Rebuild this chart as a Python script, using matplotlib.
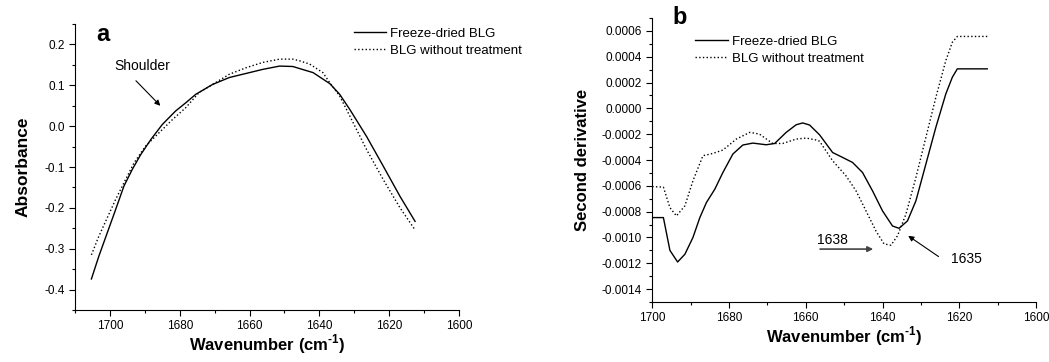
import numpy as np
import matplotlib
matplotlib.use("Agg")
import matplotlib.pyplot as plt
from matplotlib.ticker import MultipleLocator, FormatStrFormatter

plt.rcParams['font.family'] = ['Liberation Sans', 'DejaVu Sans']
plt.rcParams['axes.unicode_minus'] = False
plt.rcParams['mathtext.fontset'] = 'custom'
plt.rcParams['mathtext.rm'] = 'Liberation Sans:bold'
plt.rcParams['mathtext.bf'] = 'Liberation Sans:bold'

# panel a: absorbance spectra
a_fd_wn = [1705.3, 1703.2, 1700.8, 1698.4, 1696.0, 1693.6, 1691.2, 1688.3, 1685.0, 1681.2,
           1678.3, 1675.4, 1670.6, 1665.8, 1661.0, 1656.2, 1651.4, 1647.6, 1645.7, 1641.8,
           1637.0, 1634.2, 1631.3, 1626.5, 1621.7, 1616.9, 1612.6]
a_fd_val = [-0.374, -0.319, -0.262, -0.205, -0.147, -0.106, -0.070, -0.033, 0.004, 0.037,
            0.057, 0.078, 0.102, 0.119, 0.129, 0.139, 0.147, 0.146, 0.141, 0.131,
            0.104, 0.078, 0.041, -0.025, -0.098, -0.172, -0.233]
a_raw_wn = [1705.3, 1703.2, 1700.8, 1698.4, 1696.0, 1693.1, 1689.8, 1685.9, 1682.1, 1678.3,
            1674.5, 1670.6, 1665.8, 1661.0, 1656.2, 1651.4, 1647.6, 1645.7, 1642.8, 1639.0,
            1637.0, 1634.2, 1631.3, 1626.5, 1621.7, 1616.9, 1612.6]
a_raw_val = [-0.315, -0.270, -0.225, -0.180, -0.139, -0.090, -0.049, -0.016, 0.016, 0.045,
             0.082, 0.102, 0.127, 0.143, 0.156, 0.164, 0.164, 0.160, 0.152, 0.131,
             0.106, 0.074, 0.025, -0.057, -0.131, -0.200, -0.254]

# panel b: second derivative
b_fd_wn = [1700.0, 1697.1, 1695.4, 1693.4, 1691.5, 1689.4, 1687.6, 1685.9, 1683.7, 1681.6,
           1679.0, 1676.4, 1673.8, 1670.3, 1668.1, 1665.1, 1662.5, 1660.8, 1659.0, 1656.4,
           1653.0, 1650.4, 1647.8, 1645.2, 1642.6, 1640.0, 1637.4, 1635.7, 1633.5, 1631.3,
           1628.7, 1626.1, 1623.5, 1621.8, 1620.5, 1612.7]
b_fd_val = [-0.000846, -0.000846, -0.00110, -0.00119, -0.00113, -0.00100, -0.000846, -0.00073,
            -0.000626, -0.000497, -0.000354, -0.000284, -0.000269, -0.000282, -0.000272,
            -0.000186, -0.000127, -0.000113, -0.000129, -0.000205, -0.000342, -0.000380,
            -0.000419, -0.000497, -0.000639, -0.000794, -0.000911, -0.000929, -0.000872,
            -0.000717, -0.000432, -0.000147, 0.000112, 0.000241, 0.000306, 0.000306]
b_raw_wn = [1700.0, 1697.1, 1695.4, 1693.7, 1691.5, 1689.4, 1686.8, 1684.2, 1681.6, 1678.1,
            1674.6, 1672.1, 1668.6, 1666.0, 1662.5, 1659.9, 1657.3, 1656.4, 1653.0, 1649.5,
            1646.9, 1644.3, 1641.7, 1639.6, 1637.8, 1636.1, 1633.9, 1631.3, 1628.7, 1626.1,
            1623.5, 1621.8, 1620.5, 1612.7]
b_raw_val = [-0.000606, -0.00061, -0.000769, -0.000833, -0.000755, -0.000561, -0.000367,
             -0.000349, -0.000323, -0.000238, -0.000186, -0.000199, -0.000272, -0.000272,
             -0.000238, -0.00023, -0.000245, -0.000255, -0.000406, -0.000523, -0.000639,
             -0.000794, -0.00095, -0.00105, -0.00106, -0.000988, -0.00082, -0.000536,
             -0.000225, 0.000085, 0.00037, 0.000512, 0.000557, 0.000557]

labels = ["Freeze-dried BLG", "BLG without treatment"]
xlab = r"Wavenumber (cm$^{\text{-1}}$)"

fig = plt.figure(figsize=(10.49, 3.62), dpi=100)
ax1 = fig.add_axes([0.0715, 0.1436, 0.3661, 0.7901])
ax2 = fig.add_axes([0.6218, 0.1657, 0.3658, 0.7846])

for ax in (ax1, ax2):
    ax.spines['top'].set_visible(False)
    ax.spines['right'].set_visible(False)
    ax.tick_params(which='both', direction='out', labelsize=8.5, width=0.8)
    ax.tick_params(which='major', length=4)
    ax.tick_params(which='minor', length=2.5)

# panel a
ax1.plot(a_fd_wn, a_fd_val, 'k-', lw=1.0, label=labels[0])
ax1.plot(a_raw_wn, a_raw_val, 'k:', lw=1.0, label=labels[1])
ax1.set_xlim(1710, 1600)
ax1.set_ylim(-0.45, 0.25)
ax1.xaxis.set_major_locator(MultipleLocator(20))
ax1.xaxis.set_minor_locator(MultipleLocator(10))
ax1.yaxis.set_major_locator(MultipleLocator(0.1))
ax1.yaxis.set_minor_locator(MultipleLocator(0.05))
ax1.yaxis.set_major_formatter(FormatStrFormatter('%.1f'))
ax1.set_xlabel(xlab, fontsize=12, fontweight='bold', labelpad=0)
ax1.set_ylabel("Absorbance", fontsize=12.5, fontweight='bold', labelpad=10)
ax1.text(1704, 0.2245, "a", fontsize=17, fontweight='bold', va='center')
ax1.annotate("", xy=(1685, 0.045), xytext=(1693.1, 0.116),
             arrowprops=dict(arrowstyle='-|>', color='k', lw=0.8, mutation_scale=8))
ax1.text(1698.8, 0.147, "Shoulder", fontsize=10, va='center')
ax1.legend(loc='upper left', bbox_to_anchor=(0.337, 0.923), bbox_transform=fig.transFigure,
           frameon=False, fontsize=9.5, handlelength=2.5, handletextpad=0.3,
           labelspacing=0.33, borderpad=0, borderaxespad=0)

# panel b
ax2.plot(b_fd_wn, b_fd_val, 'k-', lw=1.0, label=labels[0])
ax2.plot(b_raw_wn, b_raw_val, 'k:', lw=1.0, label=labels[1])
ax2.set_xlim(1700, 1600)
ax2.set_ylim(-0.0015, 0.0007)
ax2.xaxis.set_major_locator(MultipleLocator(20))
ax2.xaxis.set_minor_locator(MultipleLocator(10))
ax2.yaxis.set_major_locator(MultipleLocator(0.0002))
ax2.yaxis.set_minor_locator(MultipleLocator(0.0001))
ax2.yaxis.set_major_formatter(FormatStrFormatter('%.4f'))
ax2.set_xlabel(xlab, fontsize=12, fontweight='bold', labelpad=0)
ax2.set_ylabel("Second derivative", fontsize=12, fontweight='bold', labelpad=8)
ax2.text(1694.8, 0.0007, "b", fontsize=17, fontweight='bold', va='center')
ax2.annotate("", xy=(1641.7, -0.00109), xytext=(1657, -0.00109),
             arrowprops=dict(arrowstyle='-|>', color='#444444', lw=1.2, mutation_scale=8))
ax2.text(1657, -0.00102, "1638", fontsize=10, va='center')
ax2.annotate("", xy=(1633.9, -0.000975), xytext=(1624.8, -0.00116),
             arrowprops=dict(arrowstyle='-|>', color='k', lw=0.8, mutation_scale=8))
ax2.text(1622.2, -0.00117, "1635", fontsize=10, va='center')
ax2.legend(loc='upper left', bbox_to_anchor=(0.6625, 0.901), bbox_transform=fig.transFigure,
           frameon=False, fontsize=9.5, handlelength=2.5, handletextpad=0.3,
           labelspacing=0.33, borderpad=0, borderaxespad=0)

fig.savefig("out.png", dpi=100)
